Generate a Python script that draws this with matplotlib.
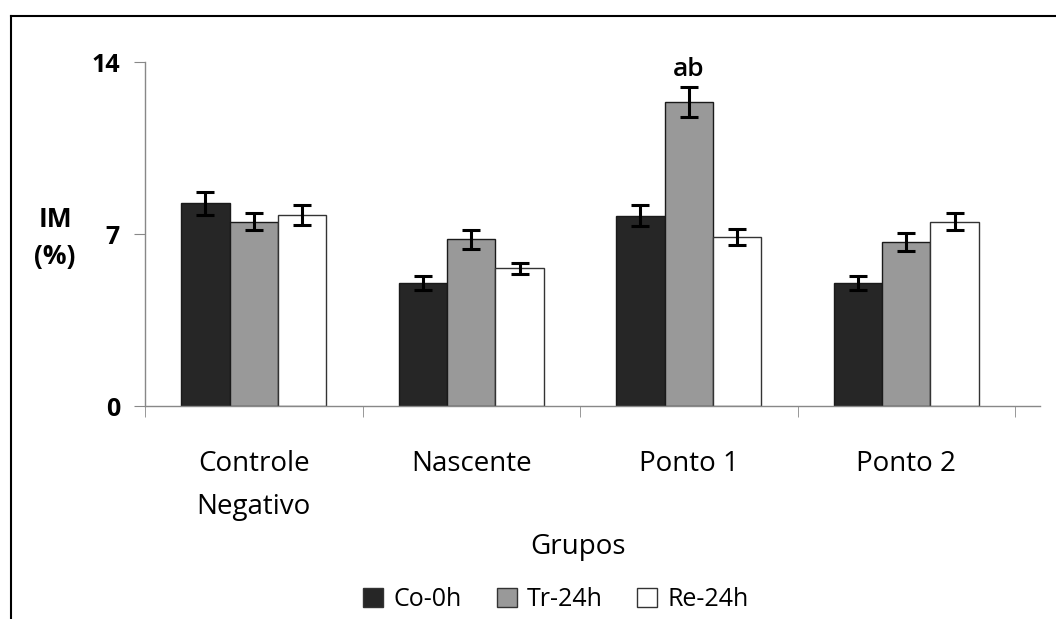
import matplotlib
matplotlib.use("Agg")
import matplotlib.pyplot as plt
import numpy as np
from matplotlib.lines import Line2D

plt.rcParams['font.family'] = ['Open Sans', 'DejaVu Sans']

categories = ["Controle\nNegativo", "Nascente", "Ponto 1", "Ponto 2"]
series_names = ["Co-0h", "Tr-24h", "Re-24h"]
co_vals = [8.25, 5.02, 7.74, 5.02]
tr_vals = [7.50, 6.78, 12.38, 6.69]
re_vals = [7.77, 5.60, 6.89, 7.50]
co_err = [0.46, 0.28, 0.43, 0.28]
tr_err = [0.35, 0.39, 0.62, 0.37]
re_err = [0.41, 0.24, 0.32, 0.35]
yticks = [0, 7, 14]
annotation_text = "ab"
annotation_cat = 2  # Ponto 1, Tr-24h

colors = ["#262626", "#999999", "#ffffff"]

fig = plt.figure(figsize=(10.56, 6.19), dpi=100)
ax = fig.add_axes([145/1056, 1-406/619, (1040-145)/1056, (406-62)/619])

x = np.arange(len(categories))
w = 1/4.5
vals = [co_vals, tr_vals, re_vals]
errs = [co_err, tr_err, re_err]
for i, (v, e, c, n) in enumerate(zip(vals, errs, colors, series_names)):
    ax.bar(x + (i-1)*w, v, width=w, color=c, edgecolor="#1a1a1a" if i < 2 else "#333333",
           linewidth=1.0, label=n, zorder=2)
    ax.errorbar(x + (i-1)*w, v, yerr=e, fmt='none', ecolor='black', elinewidth=2.2,
                capsize=6.5, capthick=2.2, zorder=3)

ax.annotate(annotation_text, (x[annotation_cat], tr_vals[annotation_cat] + tr_err[annotation_cat]),
            xytext=(0, 3), textcoords='offset points', ha='center', va='bottom',
            fontsize=19, fontweight='semibold')

ax.set_xlim(-0.5, -0.5 + len(categories) * (1040-145)/(1015-145))
ax.set_ylim(0, 14)
ax.set_yticks(yticks)
ax.set_yticklabels([str(t) for t in yticks], fontsize=18, fontweight='bold')
ax.set_xticks(x)
ax.set_xticklabels(categories, fontsize=20, linespacing=1.7, va='top')
ax.set_xticks(np.arange(len(categories)+1) - 0.5, minor=True)
ax.tick_params(axis='x', which='major', length=0, pad=32)
ax.tick_params(axis='x', which='minor', length=8, color='#888888', direction='out')
ax.tick_params(axis='y', length=8, color='#888888', pad=10)

for s in ['top', 'right']:
    ax.spines[s].set_visible(False)
for s in ['left', 'bottom']:
    ax.spines[s].set_color('#888888')
    ax.spines[s].set_linewidth(1.0)

fig.text(578/1056, 1-547/619, "Grupos", fontsize=20, ha='center', va='center')
fig.text(55/1056, 1-238/619, "IM\n(%)", fontsize=19, fontweight='bold', ha='center', va='center',
         linespacing=1.5)

handles = [plt.Rectangle((0, 0), 1, 1, facecolor=c, edgecolor='#333333', linewidth=1.0) for c in colors]
fig.legend(handles, series_names, loc='center', bbox_to_anchor=(556/1056, 1-600/619), ncol=3,
           frameon=False, fontsize=18, handlelength=0.8, handleheight=0.8, handletextpad=0.4,
           columnspacing=1.4)

# outer frame (top and left visible)
fig.add_artist(Line2D([11/1056, 1], [1-16/619, 1-16/619], color='black', lw=1.5, transform=fig.transFigure))
fig.add_artist(Line2D([11/1056, 11/1056], [0, 1-16/619], color='black', lw=1.5, transform=fig.transFigure))

fig.savefig("out.png", dpi=100)
